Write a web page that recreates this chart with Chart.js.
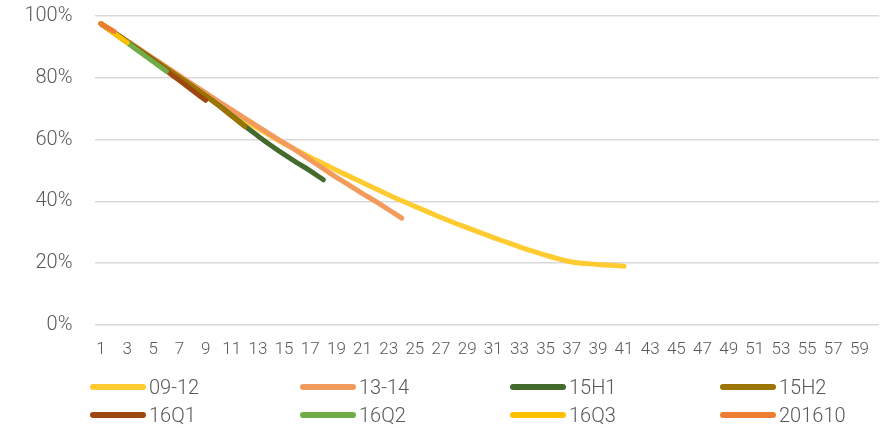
<!DOCTYPE html>
<html>
<head>
<meta charset="utf-8">
<script src="https://cdn.jsdelivr.net/npm/chart.js@4/dist/chart.umd.min.js"></script>
<style>
  html, body { margin: 0; padding: 0; background: #ffffff; }
  #wrap { position: relative; width: 893px; height: 428px; }
  #chart { position: absolute; left: 0; top: 0; }
  .lg-item { position: absolute; height: 24px; display: flex; align-items: center;
             font-family: Roboto, "Liberation Sans", sans-serif; font-weight: 300;
             font-size: 20px; color: #595959; white-space: nowrap; }
  .lg-swatch { width: 56px; height: 6px; border-radius: 3px; margin-right: 3px; }
</style>
</head>
<body>
<div id="wrap">
  <canvas id="chart" width="893" height="428"></canvas>
</div>
<script>
// Period numbers along the x axis
const categories = [
  '1','2','3','4','5','6','7','8','9','10','11','12','13','14','15','16','17','18','19','20',
  '21','22','23','24','25','26','27','28','29','30','31','32','33','34','35','36','37','38','39','40',
  '41','42','43','44','45','46','47','48','49','50','51','52','53','54','55','56','57','58','59','60'
];

// Y axis tick values (percent)
const yTicks = [0, 20, 40, 60, 80, 100];

// Remaining share (%) per cohort, by period
const series0912 = [97.5, 94.5, 91.5, 88.5, 85.6, 82.7, 79.8, 77.0, 74.2, 71.5,
                    68.8, 66.2, 63.6, 61.1, 58.7, 56.5, 54.3, 52.2, 50.1, 48.1,
                    46.1, 44.1, 42.1, 40.2, 38.4, 36.6, 34.8, 33.1, 31.5, 29.9,
                    28.3, 26.8, 25.3, 23.9, 22.6, 21.4, 20.4, 19.9, 19.6, 19.3, 19.0];
const series1314 = [97.5, 94.7, 91.9, 89.1, 86.3, 83.5, 80.7, 77.9, 75.1, 72.3,
                    69.6, 66.9, 64.2, 61.5, 58.9, 56.3, 53.4, 50.6, 47.8, 45.2,
                    42.5, 40.0, 37.3, 34.6];
const series15H1 = [97.5, 94.6, 91.7, 88.8, 85.9, 83.0, 80.1, 77.2, 74.2, 71.1,
                    67.8, 64.4, 61.2, 58.1, 55.2, 52.5, 49.9, 47.0];
const series15H2 = [97.5, 94.6, 91.7, 88.8, 85.9, 83.0, 80.1, 77.2, 74.2, 71.0,
                    67.6, 64.2];
const series16Q1 = [97.5, 94.5, 91.5, 88.5, 85.5, 82.3, 79.1, 75.9, 72.7];
const series16Q2 = [97.5, 94.5, 91.4, 88.3, 85.2, 82.1];
const series16Q3 = [97.5, 94.4, 91.4];
const series201610 = [97.4, 95.0];

const seriesNames = ['09-12', '13-14', '15H1', '15H2', '16Q1', '16Q2', '16Q3', '201610'];
const seriesValues = [series0912, series1314, series15H1, series15H2,
                      series16Q1, series16Q2, series16Q3, series201610];
const seriesColors = ['#FFCB30', '#F29B5C', '#456A2D', '#9B7500',
                      '#9F4710', '#70AD47', '#FFC000', '#ED7D31'];

const FONT = "Roboto, 'Liberation Sans', sans-serif";

const datasets = seriesNames.map((name, i) => ({
  label: name,
  data: seriesValues[i],
  borderColor: seriesColors[i],
  backgroundColor: seriesColors[i],
  borderWidth: 5,
  borderCapStyle: 'round',
  borderJoinStyle: 'round',
  pointRadius: 0,
  pointHoverRadius: 0,
  tension: 0.4,
  fill: false,
  // later cohorts are painted over earlier ones
  order: seriesNames.length - i
}));

const chart = new Chart(document.getElementById('chart'), {
  type: 'line',
  data: { labels: categories, datasets },
  options: {
    responsive: false,
    animation: false,
    layout: { padding: { left: 0, right: 14, top: 16, bottom: 63 } },
    plugins: { legend: { display: false }, tooltip: { enabled: false } },
    scales: {
      x: {
        type: 'category',
        offset: true,
        grid: { display: false, drawTicks: false },
        border: { display: false },
        ticks: {
          autoSkip: false,
          maxRotation: 0,
          padding: 15,
          color: '#595959',
          font: { family: FONT, size: 17, weight: 300 },
          callback: function (value, index) {
            return index % 2 === 0 ? this.getLabelForValue(value) : '';
          }
        },
        afterFit: (scale) => { scale.height = 40; }
      },
      y: {
        min: 0,
        max: 100,
        afterBuildTicks: (scale) => { scale.ticks = yTicks.map(v => ({ value: v })); },
        grid: { color: '#D9D9D9', lineWidth: 1.5, drawTicks: true, tickLength: 22, tickColor: 'rgba(0,0,0,0)' },
        border: { display: false },
        ticks: {
          padding: 0,
          color: '#595959',
          font: { family: FONT, size: 20, weight: 300 },
          callback: (v) => v + '%'
        },
        afterFit: (scale) => { scale.width = 94.5; }
      }
    }
  }
});

// Legend: two rows of four, built from the chart's datasets
const wrap = document.getElementById('wrap');
const colX = [90, 300, 510, 720];
const rowY = [375, 403];
chart.data.datasets.forEach((ds, i) => {
  const item = document.createElement('div');
  item.className = 'lg-item';
  item.style.left = colX[i % 4] + 'px';
  item.style.top = rowY[Math.floor(i / 4)] + 'px';
  const sw = document.createElement('span');
  sw.className = 'lg-swatch';
  sw.style.background = ds.borderColor;
  const tx = document.createElement('span');
  tx.textContent = ds.label;
  item.appendChild(sw);
  item.appendChild(tx);
  wrap.appendChild(item);
});
</script>
</body>
</html>
